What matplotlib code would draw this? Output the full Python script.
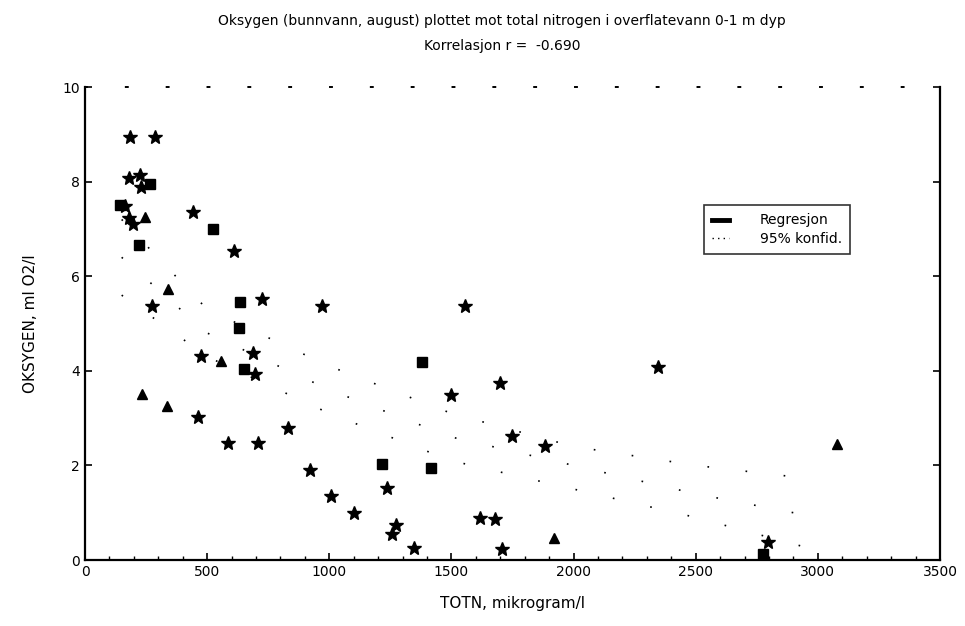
import matplotlib
matplotlib.use("Agg")
import matplotlib.pyplot as plt
from matplotlib.lines import Line2D
from matplotlib.ticker import MultipleLocator

# ---- data ----
# star / blob symbols
star_x = [184, 286, 181, 224, 231, 163, 181, 197, 442, 608, 276, 723, 972, 1557,
          476, 687, 696, 1697, 1500, 462, 830, 585, 710, 1747, 921, 1006, 1237,
          1102, 1618, 1677, 1272, 1258, 1346, 1707, 2346, 1881, 2797]
star_y = [8.95, 8.95, 8.07, 8.14, 7.88, 7.48, 7.24, 7.10, 7.35, 6.54, 5.36, 5.51, 5.36, 5.36,
          4.31, 4.38, 3.93, 3.74, 3.49, 3.02, 2.80, 2.48, 2.47, 2.62, 1.90, 1.35, 1.52,
          0.99, 0.88, 0.86, 0.74, 0.56, 0.25, 0.23, 4.09, 2.40, 0.39]
# rectangular symbols
rect_x = [265, 143, 222, 524, 635, 632, 649, 1380, 1217, 1418, 2777]
rect_y = [7.94, 7.50, 6.66, 7.00, 5.46, 4.91, 4.03, 4.19, 2.03, 1.95, 0.13]
# triangle symbols
tri_x = [245, 340, 558, 235, 336, 1918, 3078]
tri_y = [7.26, 5.74, 4.21, 3.51, 3.26, 0.46, 2.45]

# regression curve and 95% confidence limits (estimated)
reg_x = [150, 500, 1000, 1500, 2000, 2500, 3000]
reg_y = [6.4, 4.8, 3.6, 2.6, 2.0, 1.4, 0.9]
upp_y = [7.2, 5.3, 4.1, 3.1, 2.4, 2.0, 1.7]
low_y = [5.6, 4.3, 3.1, 2.1, 1.5, 0.9, 0.2]

x_ticks = [0, 500, 1000, 1500, 2000, 2500, 3000, 3500]
y_ticks = [0, 2, 4, 6, 8, 10]

title1 = "Oksygen (bunnvann, august) plottet mot total nitrogen i overflatevann 0-1 m dyp"
title2 = "Korrelasjon r =  -0.690"
xlabel = "TOTN, mikrogram/l"
ylabel = "OKSYGEN, ml O2/l"
legend_labels = ["Regresjon", "95% konfid."]

# ---- figure ----
fig = plt.figure(figsize=(9.65, 6.26), dpi=100)
ax = fig.add_axes([0.0881, 0.1054, 0.886, 0.7556])

dot = (0, (1, 22))
ax.plot(reg_x, reg_y, color="black", lw=1.2, linestyle=dot)
ax.plot(reg_x, upp_y, color="black", lw=1.2, linestyle=dot)
ax.plot(reg_x, low_y, color="black", lw=1.2, linestyle=dot)

ax.plot(star_x, star_y, linestyle="none", marker="*", markersize=10, color="black")
ax.plot(rect_x, rect_y, linestyle="none", marker="s", markersize=6.5, color="black")
ax.plot(tri_x, tri_y, linestyle="none", marker="^", markersize=7.5, color="black")

ax.set_xlim(0, 3500)
ax.set_ylim(0, 10)
ax.set_xticks(x_ticks)
ax.set_xticklabels([str(v) for v in x_ticks])
ax.set_yticks(y_ticks)
ax.set_yticklabels([str(v) for v in y_ticks])
ax.xaxis.set_minor_locator(MultipleLocator(100))
ax.tick_params(axis="both", which="major", direction="in", length=5, width=1.2,
               labelsize=10, top=False, right=True)
ax.tick_params(axis="x", which="minor", direction="in", length=3, width=1, top=False)
for s in ["left", "bottom", "right"]:
    ax.spines[s].set_linewidth(1.6)
ax.spines["top"].set_linestyle((0, (1, 20)))
ax.spines["top"].set_linewidth(1.4)

ax.set_xlabel(xlabel, fontsize=11, labelpad=12)
ax.set_ylabel(ylabel, fontsize=11, labelpad=18)

fig.text(0.52, 0.966, title1, ha="center", va="center", fontsize=10)
fig.text(0.52, 0.927, title2, ha="center", va="center", fontsize=10)

handles = [Line2D([], [], color="black", lw=3.5),
           Line2D([], [], color="black", lw=1, linestyle=(0, (1, 3)))]
leg = ax.legend(handles, legend_labels, loc="upper left", bbox_to_anchor=(0.716, 0.765),
                frameon=True, fancybox=False, edgecolor="black", fontsize=10,
                handlelength=1.2, handletextpad=2.2, borderpad=0.6, labelspacing=0.3)
leg.get_frame().set_linewidth(1.2)

fig.savefig("out.png", dpi=100, facecolor="white")
